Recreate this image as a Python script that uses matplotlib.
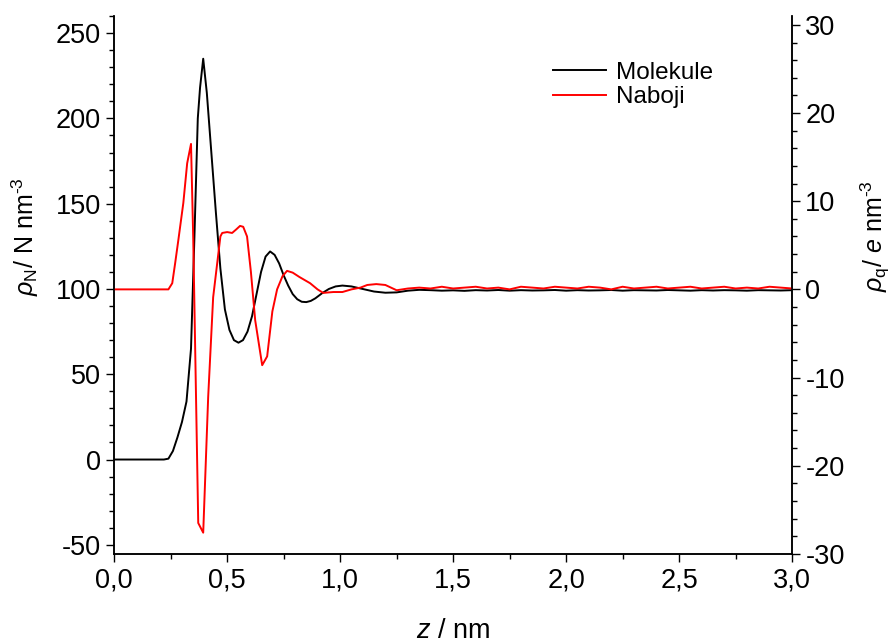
import matplotlib
matplotlib.use('Agg')
import matplotlib.pyplot as plt
from matplotlib.ticker import MultipleLocator, FuncFormatter

plt.rcParams['font.family'] = ['Liberation Sans', 'DejaVu Sans']
plt.rcParams['mathtext.fontset'] = 'custom'
plt.rcParams['mathtext.rm'] = 'Liberation Sans'
plt.rcParams['mathtext.it'] = 'Liberation Sans:italic'
plt.rcParams['axes.unicode_minus'] = False

# gustoca molekula (lijeva os)
z_mol = [0.00, 0.22, 0.24, 0.26, 0.28, 0.30, 0.32, 0.34, 0.355, 0.37, 0.38, 0.394, 0.41,
         0.43, 0.45, 0.47, 0.49, 0.51, 0.53, 0.55, 0.57, 0.59, 0.61, 0.63, 0.65, 0.67,
         0.69, 0.71, 0.73, 0.75, 0.77, 0.79, 0.81, 0.83, 0.85, 0.87, 0.89, 0.92, 0.95,
         0.98, 1.01, 1.05, 1.10, 1.15, 1.20, 1.25, 1.30, 1.35, 1.40, 1.45, 1.50, 1.55,
         1.60, 1.65, 1.70, 1.75, 1.80, 1.85, 1.90, 1.95, 2.00, 2.05, 2.10, 2.15, 2.20,
         2.25, 2.30, 2.35, 2.40, 2.45, 2.50, 2.55, 2.60, 2.65, 2.70, 2.75, 2.80, 2.85,
         2.90, 2.95, 3.00]
rho_mol = [0, 0, 0.5, 5, 13, 22, 34, 65, 130, 200, 218, 235, 215,
           180, 145, 112, 88, 76, 70, 68.5, 70, 75, 84, 97, 110, 119,
           122, 120, 115, 108, 102, 97, 94, 92.5, 92.3, 93, 94.5, 97.5, 100,
           101.5, 102, 101.5, 100, 98.5, 97.8, 98, 99, 99.5, 99.3, 99, 99.2, 98.9,
           99.3, 99.1, 99.4, 99.0, 99.3, 99.1, 99.2, 99.4, 99.0, 99.3, 99.1, 99.2, 99.4,
           99.0, 99.3, 99.2, 99.1, 99.4, 99.2, 99.0, 99.3, 99.1, 99.3, 99.2, 99.0, 99.3,
           99.2, 99.1, 99.3]

# gustoca naboja (desna os)
z_q = [0.00, 0.24, 0.257, 0.27, 0.284, 0.306, 0.323, 0.34, 0.35, 0.372, 0.394, 0.416,
       0.438, 0.47, 0.478, 0.50, 0.522, 0.54, 0.557, 0.571, 0.588, 0.605, 0.624, 0.655,
       0.677, 0.70, 0.721, 0.745, 0.765, 0.79, 0.82, 0.867, 0.90, 0.925, 0.97, 1.01,
       1.05, 1.09, 1.12, 1.16, 1.20, 1.25, 1.30, 1.35, 1.40, 1.45, 1.50, 1.55, 1.60,
       1.65, 1.70, 1.75, 1.80, 1.85, 1.90, 1.95, 2.00, 2.05, 2.10, 2.15, 2.20, 2.25,
       2.30, 2.35, 2.40, 2.45, 2.50, 2.55, 2.60, 2.65, 2.70, 2.75, 2.80, 2.85, 2.90,
       2.95, 3.00]
rho_q = [0, 0, 0.7, 3, 5.6, 9.8, 14.3, 16.5, 5.6, -26.5, -27.6, -12.2,
         -0.9, 6.0, 6.4, 6.5, 6.4, 6.8, 7.2, 7.1, 6.0, 2.0, -3.5, -8.6,
         -7.6, -2.5, 0, 1.5, 2.1, 1.9, 1.4, 0.7, 0.0, -0.4, -0.3, -0.3,
         0.0, 0.2, 0.5, 0.6, 0.5, -0.1, 0.1, 0.2, 0.1, 0.3, 0.1, 0.2, 0.3,
         0.1, 0.2, 0.0, 0.3, 0.2, 0.1, 0.3, 0.2, 0.1, 0.3, 0.2, 0.0, 0.3,
         0.1, 0.2, 0.3, 0.1, 0.2, 0.3, 0.1, 0.2, 0.3, 0.1, 0.2, 0.1, 0.3,
         0.2, 0.1]

fig = plt.figure(figsize=(8.92, 6.44), dpi=100)
ax = fig.add_axes([0.128, 0.14, 0.76, 0.835])
ax2 = ax.twinx()

l1, = ax.plot(z_mol, rho_mol, color='black', lw=1.4, label='Molekule')
l2, = ax2.plot(z_q, rho_q, color='red', lw=1.4, label='Naboji')

ax.set_xlim(0, 3.0)
ax.set_ylim(-55.3, 260)
ax2.set_ylim(-30, 31)

ax.xaxis.set_major_locator(MultipleLocator(0.5))
ax.xaxis.set_minor_locator(MultipleLocator(0.25))
ax.xaxis.set_major_formatter(FuncFormatter(lambda v, p: '{:.1f}'.format(v).replace('.', ',')))
ax.yaxis.set_major_locator(MultipleLocator(50))
ax.yaxis.set_minor_locator(MultipleLocator(10))
ax2.yaxis.set_major_locator(MultipleLocator(10))
ax2.yaxis.set_minor_locator(MultipleLocator(2))

for a in (ax, ax2):
    a.spines['top'].set_visible(False)
    for s in a.spines.values():
        s.set_linewidth(1.1)
    a.tick_params(which='major', direction='out', length=6, width=1.0, labelsize=19.5)
    a.tick_params(which='minor', direction='out', length=3.5, width=1.0)

ax.set_xlabel(r'$z$ / nm', fontsize=19.5)
ax.set_ylabel(r'$\rho_{\mathregular{N}}$/ N nm$^{\text{-3}}$', fontsize=18, va='center')
ax2.set_ylabel(r'$\rho_{\mathregular{q}}$/ $e$ nm$^{\text{-3}}$', fontsize=18, va='center')
ax.xaxis.set_label_coords(0.5, -0.12)
ax.yaxis.set_label_coords(-0.131, 0.59)
ax2.yaxis.set_label_coords(1.123, 0.59)

ax.legend([l1, l2], ['Molekule', 'Naboji'], loc='upper left', bbox_to_anchor=(0.647, 0.915),
          frameon=False, fontsize=17.5, handlelength=2.2, labelspacing=0.1,
          handletextpad=0.4, borderpad=0, borderaxespad=0)

fig.savefig('out.png', dpi=100)
